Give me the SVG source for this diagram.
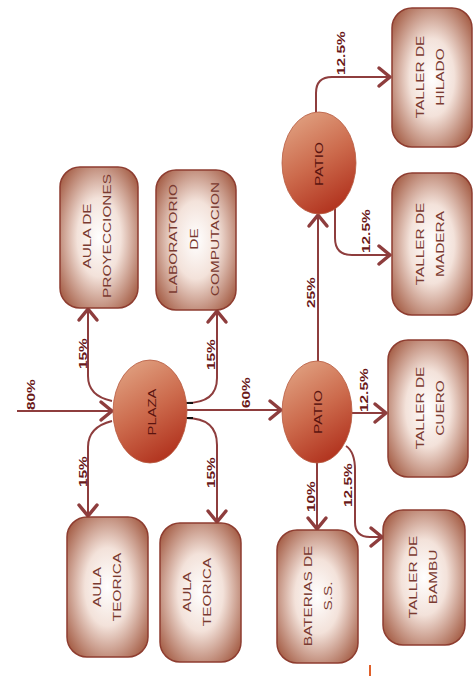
<svg xmlns="http://www.w3.org/2000/svg" width="474" height="676" viewBox="0 0 474 676">
<defs>
<radialGradient id="boxg" cx="50%" cy="50%" r="62%">
<stop offset="0" stop-color="#ffffff"/>
<stop offset="0.45" stop-color="#f3e2da"/>
<stop offset="1" stop-color="#a8634c"/>
</radialGradient>
<linearGradient id="ellg" x1="0.25" y1="0" x2="0.7" y2="1">
<stop offset="0" stop-color="#e0a080"/>
<stop offset="0.5" stop-color="#cc6a4c"/>
<stop offset="1" stop-color="#b0301c"/>
</linearGradient>
<marker id="arr" markerUnits="userSpaceOnUse" viewBox="-16 -14 20 28" markerWidth="20" markerHeight="28" refX="0" refY="0" orient="auto" overflow="visible">
<path d="M-11,-9 L0,0 L-11,9" fill="none" stroke="#8e3d3d" stroke-width="3.5" stroke-linecap="round" stroke-linejoin="round"/>
</marker>
<style>
.box{fill:url(#boxg);stroke:#8e3d30;stroke-width:1.5}
.ell{fill:url(#ellg);stroke:#b65a40;stroke-width:0.8}
.bt{font-family:"Liberation Sans",Arial,sans-serif;font-size:11px;fill:#7a3a30;text-anchor:middle}
.et{font-family:"Liberation Sans",Arial,sans-serif;font-size:11px;fill:#5a1410;text-anchor:middle}
.lb{font-family:"Liberation Sans",Arial,sans-serif;font-size:11px;font-weight:bold;fill:#6a1818}
.c{fill:none;stroke:#8e3d3d;stroke-width:2;marker-end:url(#arr)}
</style>
</defs>
<rect width="474" height="676" fill="#ffffff"/>

<g id="connectors">
<path class="c" d="M17,411 H112"/>
<path class="c" d="M112,401 Q88,396 88,376 V309"/>
<path class="c" d="M112,421 Q88,427 88,447 V516"/>
<path class="c" d="M186,403 Q217,403 217,378 V311"/>
<path class="c" d="M186,418 Q217,418 217,445 V522"/>
<path class="c" d="M187,410 H281"/>
<path class="c" d="M318,361 V215"/>
<path class="c" d="M352,413 H386"/>
<path class="c" d="M317,463 V529"/>
<path class="c" d="M346,446 Q355,452 355,470 V522 Q355,537 370,537 H382"/>
<path class="c" d="M316,112 V93 Q316,77 332,77 H390"/>
<path class="c" d="M335,205 V238 Q335,255 352,255 H390"/>
<path d="M185,403 H193 M185,418 H193" stroke="#111" stroke-width="2"/>
<g class="lb">
<text transform="translate(35,410) rotate(-90) scale(1.4,1)">80%</text>
<text transform="translate(87,369) rotate(-90) scale(1.4,1)">15%</text>
<text transform="translate(87,487) rotate(-90) scale(1.4,1)">15%</text>
<text transform="translate(215,370) rotate(-90) scale(1.4,1)">15%</text>
<text transform="translate(215,488) rotate(-90) scale(1.4,1)">15%</text>
<text transform="translate(250,408) rotate(-90) scale(1.4,1)">60%</text>
<text transform="translate(315,308) rotate(-90) scale(1.4,1)">25%</text>
<text transform="translate(345,75) rotate(-90) scale(1.4,1)">12.5%</text>
<text transform="translate(370,253) rotate(-90) scale(1.4,1)">12.5%</text>
<text transform="translate(368,412) rotate(-90) scale(1.4,1)">12.5%</text>
<text transform="translate(315,512) rotate(-90) scale(1.4,1)">10%</text>
<text transform="translate(352,507) rotate(-90) scale(1.4,1)">12.5%</text>
</g>
</g>

<g id="plaza">
<ellipse class="ell" cx="150" cy="411.5" rx="37" ry="51.5"/>
<text class="et" transform="translate(156,412) rotate(-90) scale(1.35,1)">PLAZA</text>
</g>
<g id="patio-centro">
<ellipse class="ell" cx="317" cy="412" rx="35" ry="51"/>
<text class="et" transform="translate(322,412) rotate(-90) scale(1.4,1)">PATIO</text>
</g>
<g id="patio-superior">
<ellipse class="ell" cx="319" cy="163" rx="37" ry="51"/>
<text class="et" transform="translate(323,164) rotate(-90) scale(1.4,1)">PATIO</text>
</g>

<g id="aula-proyecciones">
<rect class="box" x="60" y="167" width="78" height="141" rx="20"/>
<text class="bt" transform="translate(0,236) rotate(-90) scale(1.4,1)"><tspan x="0" y="91">AULA DE</tspan><tspan x="0" y="111">PROYECCIONES</tspan></text>
</g>
<g id="laboratorio">
<rect class="box" x="156" y="170" width="80" height="140" rx="20"/>
<text class="bt" transform="translate(0,239) rotate(-90) scale(1.4,1)"><tspan x="0" y="177">LABORATORIO</tspan><tspan x="0" y="198">DE</tspan><tspan x="0" y="219">COMPUTACION</tspan></text>
</g>
<g id="aula-teorica-1">
<rect class="box" x="67" y="517" width="81" height="140" rx="20"/>
<text class="bt" transform="translate(0,587) rotate(-90) scale(1.4,1)"><tspan x="0" y="101">AULA</tspan><tspan x="0" y="121">TEORICA</tspan></text>
</g>
<g id="aula-teorica-2">
<rect class="box" x="160" y="523" width="81" height="139" rx="20"/>
<text class="bt" transform="translate(0,592) rotate(-90) scale(1.4,1)"><tspan x="0" y="191">AULA</tspan><tspan x="0" y="211">TEORICA</tspan></text>
</g>
<g id="taller-hilado">
<rect class="box" x="392" y="8" width="80" height="139" rx="20"/>
<text class="bt" transform="translate(0,77) rotate(-90) scale(1.4,1)"><tspan x="0" y="424">TALLER DE</tspan><tspan x="0" y="444">HILADO</tspan></text>
</g>
<g id="taller-madera">
<rect class="box" x="392" y="173" width="80" height="142" rx="20"/>
<text class="bt" transform="translate(0,244) rotate(-90) scale(1.4,1)"><tspan x="0" y="424">TALLER DE</tspan><tspan x="0" y="444">MADERA</tspan></text>
</g>
<g id="taller-cuero">
<rect class="box" x="388" y="340" width="80" height="137" rx="20"/>
<text class="bt" transform="translate(0,408) rotate(-90) scale(1.4,1)"><tspan x="0" y="424">TALLER DE</tspan><tspan x="0" y="444">CUERO</tspan></text>
</g>
<g id="taller-bambu">
<rect class="box" x="383" y="510" width="82" height="135" rx="20"/>
<text class="bt" transform="translate(0,577) rotate(-90) scale(1.4,1)"><tspan x="0" y="417">TALLER DE</tspan><tspan x="0" y="437">BAMBU</tspan></text>
</g>
<g id="baterias">
<rect class="box" x="277" y="530" width="81" height="133" rx="20"/>
<text class="bt" transform="translate(0,596) rotate(-90) scale(1.4,1)"><tspan x="0" y="312">BATERIAS DE</tspan><tspan x="0" y="332">S.S.</tspan></text>
</g>
<line x1="370" y1="665" x2="370" y2="676" stroke="#e0602a" stroke-width="2"/>
</svg>
